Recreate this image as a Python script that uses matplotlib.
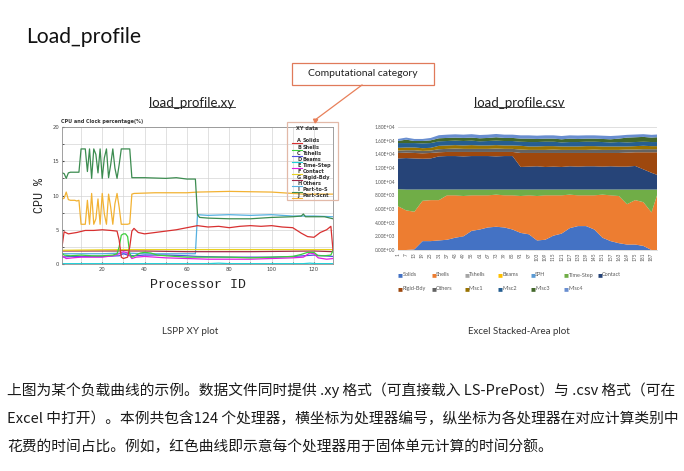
import matplotlib
matplotlib.use('Agg')
import matplotlib.pyplot as plt
from matplotlib.patches import Rectangle
from matplotlib.lines import Line2D
from matplotlib.ticker import FuncFormatter

# ---------------- LS-PrePost XY data (CPU %, per processor) ----------------
ids_fine = [1, 2, 3, 4, 5, 6, 7, 8, 9, 10, 11, 12, 13, 14, 15, 16, 17, 18, 19, 20,
            21, 22, 23, 24, 25, 26, 27, 28, 29, 30, 31, 32, 33, 34, 35,
            40, 50, 55, 60, 64, 65, 66, 70, 80, 90, 100, 110, 114, 115, 116, 125, 129]
part_s_cpu = [13.3, 13.2, 12.5, 13.3, 13.4, 13.4, 13.4, 13.4, 13.4, 16.8, 16.8, 16.8, 13.5,
              16.8, 12.5, 16.8, 16.0, 13.3, 16.8, 12.5, 15.5, 16.8, 12.6, 14.5, 16.8, 14.0,
              12.5, 14.5, 16.8, 16.8, 16.8, 16.8, 16.8, 12.6, 12.6,
              12.6, 12.5, 12.6, 12.4, 12.4, 7.2, 6.8, 6.7, 6.6, 6.6, 6.8, 6.9, 7.0, 7.3, 6.9, 6.9, 6.6]

ids_scnt = [1, 2, 3, 4, 5, 6, 7, 8, 9, 10, 11, 12, 13, 14, 15, 16, 17, 18, 19, 20,
            21, 22, 23, 24, 25, 26, 27, 28, 29, 30, 31, 32, 33, 34, 35,
            45, 60, 65, 80, 100, 110, 115, 129]
part_scnt_cpu = [9.5, 9.6, 10.5, 9.4, 9.3, 9.3, 9.3, 9.2, 9.3, 5.8, 5.8, 5.8, 9.3, 5.8, 10.3,
                 5.8, 6.6, 9.5, 5.8, 10.3, 7.3, 5.8, 10.2, 8.3, 5.8, 8.8, 10.3, 8.3, 5.8, 5.8,
                 5.8, 5.8, 5.9, 10.2, 10.3,
                 10.4, 10.4, 10.5, 10.6, 10.5, 10.3, 10.2, 10.2]

ids_solids = [1, 2, 4, 8, 12, 16, 20, 24, 27, 28, 29, 30, 31, 32, 33, 34, 35, 37, 40, 45,
              50, 55, 60, 65, 70, 75, 80, 85, 90, 95, 100, 105, 110, 114, 117, 120, 123,
              126, 128, 129]
solids_cpu = [2.5, 4.7, 4.4, 4.6, 4.9, 4.9, 5.0, 4.9, 4.8, 3.5, 1.0, 0.8, 0.9, 1.0, 2.5, 4.8,
              5.2, 4.6, 4.4, 4.6, 4.8, 5.0, 5.3, 5.6, 5.4, 5.5, 5.3, 5.5, 5.6, 5.5, 5.6, 5.4,
              5.3, 4.5, 4.0, 3.9, 4.6, 5.0, 5.5, 2.0]

ids_shells = [1, 2, 5, 10, 15, 20, 25, 27, 28, 29, 30, 31, 32, 33, 34, 36, 38, 40, 43, 46,
              50, 55, 60, 70, 80, 90, 100, 110, 114, 117, 120, 122, 125, 128, 129]
shells_cpu = [1.6, 1.3, 1.2, 1.3, 1.2, 1.2, 1.3, 1.5, 2.5, 4.2, 4.4, 4.4, 4.0, 1.5, 1.0, 1.3,
              1.6, 1.7, 1.6, 1.3, 1.2, 1.1, 1.0, 1.0, 1.0, 0.9, 1.0, 1.1, 1.4, 1.7, 1.7, 1.2,
              1.2, 1.3, 2.0]

ids_tshells = [1, 5, 10, 20, 28, 30, 32, 35, 40, 50, 60, 65, 80, 100, 110, 120, 129]
tshells_cpu = [1.0, 1.1, 1.1, 1.1, 1.2, 1.5, 1.3, 1.2, 1.3, 1.3, 1.2, 1.1, 1.0, 1.0, 1.1, 1.3, 1.1]

ids_beams = [1, 70, 75, 80, 115, 118, 121, 129]
beams_cpu = [0.05, 0.05, 0.12, 0.05, 0.05, 0.12, 0.05, 0.05]

ids_tstep = [1, 3, 6, 10, 15, 20, 25, 28, 30, 32, 34, 36, 40, 45, 50, 60, 70, 80, 90, 100,
             110, 115, 118, 120, 122, 126, 129]
tstep_cpu = [1.2, 0.8, 0.9, 1.0, 1.0, 1.0, 1.2, 1.5, 1.8, 1.6, 0.8, 1.0, 1.1, 1.0, 0.9, 0.8,
             0.7, 0.7, 0.7, 0.8, 0.9, 1.0, 1.6, 1.5, 0.9, 0.7, 0.8]

ids_contact = [1, 30, 60, 90, 129]
contact_cpu = [2.0, 2.1, 2.1, 2.1, 2.1]

ids_rigid = [1, 28, 30, 33, 40, 60, 90, 120, 129]
rigid_cpu = [1.9, 1.9, 2.0, 1.9, 1.9, 1.8, 1.8, 1.9, 1.8]

ids_others = [1, 10, 20, 30, 40, 50, 60, 64, 65, 70, 80, 90, 100, 110, 120, 129]
others_cpu = [1.5, 1.5, 1.5, 1.6, 1.5, 1.5, 1.5, 1.5, 7.2, 7.1, 7.2, 7.1, 7.2, 7.0, 7.0, 6.9]

xy_letters = ['A', 'B', 'C', 'D', 'E', 'F', 'G', 'H', 'I', 'J']
xy_names = ['Solids', 'Shells', 'Tshells', 'Beams', 'Time-Step', 'Contact',
            'Rigid-Bdy', 'Others', 'Part-to-S', 'Part-Scnt']
xy_colors = ['#d83030', '#3ccf3c', '#5050e0', '#20d0d8', '#e020e0', '#e8d020',
             '#a02848', '#55b0e0', '#3c8c50', '#f2b233']

# ---------------- Excel stacked-area data (time per processor) ----------------
csv_ids = [1, 7, 13, 19, 25, 31, 37, 43, 49, 55, 61, 67, 73, 79, 85, 91, 97, 103, 109, 115,
           121, 127, 133, 139, 145, 151, 157, 163, 169, 175, 181, 187, 191]
solids_t = [0, 0, 100, 1300, 1300, 1400, 1500, 1800, 2000, 2800, 3000, 3300, 3400, 3300, 3000,
            2500, 2300, 1400, 1500, 2100, 2400, 3200, 3500, 3500, 3000, 1800, 1300, 1000, 800,
            800, 600, 0, 0]
shells_t = [6400, 5800, 5500, 5900, 6000, 5900, 6500, 6200, 5900, 5200, 5000, 4700, 4700, 4700,
            5000, 5400, 5700, 6500, 6500, 5900, 5600, 4900, 4500, 4500, 5000, 6300, 6700, 6900,
            5900, 6500, 6400, 5500, 8000]
timestep_t = [2500, 3050, 3250, 1650, 1550, 1550, 850, 850, 950, 850, 850, 850, 750, 850, 850,
              950, 850, 950, 850, 850, 850, 750, 850, 850, 850, 750, 850, 950, 2150, 1550, 1850,
              3350, 850]
contact_t = [4500, 4600, 4550, 4500, 4550, 4850, 4900, 4900, 4850, 4900, 4900, 4900, 4850, 4900,
             4900, 3300, 3350, 3400, 3300, 3350, 3300, 3400, 3350, 3400, 3400, 3350, 3400, 3350,
             3350, 3450, 2950, 2450, 2150]
rigid_t = [800, 800, 800, 800, 800, 600, 600, 600, 650, 600, 600, 600, 650, 600, 600, 2050, 2000,
           1950, 2050, 2000, 2050, 1950, 2000, 1950, 1950, 2000, 1950, 2000, 2050, 2000, 2500,
           3000, 3300]
others_t = [350, 350, 400, 350, 350, 450, 450, 500, 450, 450, 450, 450, 500, 450, 450, 500, 450,
            450, 450, 500, 450, 450, 450, 450, 500, 450, 450, 450, 450, 400, 450, 450, 450]
misc1_t = [400, 400, 400, 400, 400, 500, 500, 500, 500, 550, 500, 500, 500, 500, 500, 550, 500,
           500, 550, 500, 500, 500, 500, 550, 500, 500, 500, 500, 450, 500, 500, 450, 450]
misc2_t = [700, 650, 650, 700, 700, 650, 650, 650, 650, 650, 600, 650, 650, 650, 650, 600, 650,
           650, 650, 650, 600, 650, 650, 650, 650, 650, 600, 650, 600, 600, 600, 600, 600]
misc3_t = [300, 500, 300, 350, 400, 450, 450, 450, 450, 450, 450, 450, 500, 450, 450, 450, 500,
           450, 450, 450, 450, 500, 450, 450, 450, 450, 450, 500, 700, 700, 700, 650, 700]
misc4_t = [300, 300, 300, 300, 350, 450, 480, 480, 480, 500, 480, 480, 480, 480, 480, 480, 480,
           480, 480, 480, 480, 480, 500, 480, 480, 480, 480, 450, 400, 400, 400, 400, 400]

csv_names = ['Solids', 'Shells', 'Tshells', 'Beams', 'SPH', 'Time-Step', 'Contact',
             'Rigid-Bdy', 'Others', 'Misc1', 'Misc2', 'Misc3', 'Misc4']
csv_colors = ['#4472C4', '#ED7D31', '#A5A5A5', '#FFC000', '#5B9BD5', '#70AD47', '#264478',
              '#9E480E', '#636363', '#997300', '#255E91', '#43682B', '#698ED0']

W, H = 684, 471


def fx(px):
    return px / W


def fy(py):
    return 1 - py / H


fig = plt.figure(figsize=(W / 100, H / 100), dpi=100)
fig.patch.set_facecolor('white')
sans = 'Lato'
cjk = ['Noto Sans CJK SC', 'DejaVu Sans']

# ---------------- headings ----------------
fig.text(fx(26), fy(37), 'Load_profile', fontsize=15.2, family=sans, va='center', color='#111111')

fig.add_artist(Rectangle((fx(292), fy(85)), fx(434) - fx(292), fy(63) - fy(85),
                         transform=fig.transFigure, fill=False, edgecolor='#e07a5a', lw=0.9))
fig.text(fx(363), fy(74), 'Computational category', fontsize=7.5, family=sans,
         ha='center', va='center', color='#222222')
fig.add_artist(Line2D([fx(362), fx(315)], [fy(85), fy(120)], transform=fig.transFigure,
                      color='#e8805a', lw=0.9))
fig.add_artist(Line2D([fx(315)], [fy(120)], transform=fig.transFigure, marker=(3, 0, 53),
                      markersize=3.5, color='#e8805a'))

sub_xy = fig.text(fx(192), fy(103), 'load_profile.xy', fontsize=9.5, family=sans,
                  ha='center', va='center', color='#222222')
sub_csv = fig.text(fx(519), fy(103), 'load_profile.csv', fontsize=9.5, family=sans,
                   ha='center', va='center', color='#222222')

# ---------------- left: LS-PrePost XY plot ----------------
ax1 = fig.add_axes([fx(62), fy(264), fx(333) - fx(62), fy(127) - fy(264)])
xy_series = [(ids_solids, solids_cpu), (ids_shells, shells_cpu), (ids_tshells, tshells_cpu),
             (ids_beams, beams_cpu), (ids_tstep, tstep_cpu), (ids_contact, contact_cpu),
             (ids_rigid, rigid_cpu), (ids_others, others_cpu), (ids_fine, part_s_cpu),
             (ids_scnt, part_scnt_cpu)]
draw_order = [3, 7, 2, 6, 5, 4, 1, 0, 9, 8]
for i in draw_order:
    xs, ys = xy_series[i]
    ax1.plot(xs, ys, color=xy_colors[i], lw=0.9)
ax1.set_xlim(1, 129)
ax1.set_ylim(0, 20)
ax1.set_xticks([20, 40, 60, 80, 100, 120])
ax1.set_xticks(range(10, 130, 10), minor=True)
ax1.set_yticks([0, 5, 10, 15, 20])
ax1.set_yticks([2.5, 7.5, 12.5, 17.5], minor=True)
ax1.grid(True, which='both', color='#d4d4d4', lw=0.5)
ax1.tick_params(which='both', length=1.5, direction='in', labelsize=3.8, colors='#444444', pad=2)
for s in ax1.spines.values():
    s.set_color('#909090')
    s.set_linewidth(0.6)
ax1.set_xlabel('Processor ID', family='Liberation Mono', fontsize=9.5, labelpad=5, color='#222222')
ax1.set_ylabel('CPU %', family='Liberation Mono', fontsize=8.5, labelpad=5, color='#222222')
fig.text(fx(61), fy(122), 'CPU and Clock percentage(%)', fontsize=3.5, weight='bold',
         family='DejaVu Sans', va='center', color='#333333')

# legend of the XY plot (transparent, LS-PrePost style)
fig.text(fx(296), fy(128), 'XY data', fontsize=3.6, weight='bold', family='DejaVu Sans',
         va='center', color='#333333')
for i in range(len(xy_names)):
    yy = 141 + i * 6.1
    fig.text(fx(297), fy(yy), xy_letters[i], fontsize=3.6, weight='bold',
             family='DejaVu Sans', va='center', color='#333333')
    fig.text(fx(302.5), fy(yy), xy_names[i], fontsize=3.6, weight='bold',
             family='DejaVu Sans', va='center', color='#333333')
    fig.add_artist(Line2D([fx(292), fx(302)], [fy(yy + 2.4), fy(yy + 2.4)],
                          transform=fig.transFigure, color=xy_colors[i], lw=0.8))
fig.add_artist(Rectangle((fx(287), fy(200)), fx(338) - fx(287), fy(122) - fy(200),
                         transform=fig.transFigure, fill=False, edgecolor='#e2b9a8', lw=0.9))

# ---------------- right: Excel stacked area ----------------
ax2 = fig.add_axes([fx(398), fy(250), fx(657) - fx(398), fy(127) - fy(250)])
zeros = [0] * len(csv_ids)
stack = [solids_t, shells_t, zeros, zeros, zeros, timestep_t, contact_t, rigid_t,
         others_t, misc1_t, misc2_t, misc3_t, misc4_t]
ax2.stackplot(csv_ids, *stack, colors=csv_colors, lw=0)
ax2.set_xlim(1, 191)
ax2.set_ylim(0, 18000)
ax2.set_yticks(range(0, 18001, 2000))
ax2.yaxis.set_major_formatter(FuncFormatter(lambda v, p: f'{v:.2E}'))
ax2.set_xticks(csv_ids[:-1])
ax2.set_xticklabels([str(v) for v in csv_ids[:-1]], rotation=90)
ax2.yaxis.grid(True, color='#d9d9d9', lw=0.6)
ax2.set_axisbelow(True)
ax2.tick_params(length=0, labelsize=3.4, colors='#595959', pad=2)
for lab in ax2.get_xticklabels() + ax2.get_yticklabels():
    lab.set_family(sans)
for k in ['left', 'right', 'top']:
    ax2.spines[k].set_visible(False)
ax2.spines['bottom'].set_color('#d9d9d9')
ax2.spines['bottom'].set_linewidth(0.6)

# Excel-like legend: 2 rows x 7 columns
for i, (name, col) in enumerate(zip(csv_names, csv_colors)):
    r, c = divmod(i, 7)
    x0 = 398 + c * 33.2
    y0 = 275 + r * 13.5
    fig.text(fx(x0), fy(y0), '\u25a0', fontsize=3.8, color=col, va='center', family='DejaVu Sans')
    fig.text(fx(x0 + 4.5), fy(y0), name, fontsize=4.0, color='#595959', va='center', family=sans)

# ---------------- captions and description ----------------
fig.text(fx(190), fy(331), 'LSPP XY plot', fontsize=7, family=sans, ha='center', va='center',
         color='#333333')
fig.text(fx(519), fy(331), 'Excel Stacked-Area plot', fontsize=7, family=sans, ha='center',
         va='center', color='#333333')

lines = ['上图为某个负载曲线的示例。数据文件同时提供 .xy 格式（可直接载入 LS-PrePost）与 .csv 格式（可在',
         'Excel 中打开）。本例共包含124 个处理器，横坐标为处理器编号，纵坐标为各处理器在对应计算类别中',
         '花费的时间占比。例如，红色曲线即示意每个处理器用于固体单元计算的时间分额。']
for k, ln in enumerate(lines):
    fig.text(fx(7), fy(390 + k * 28.5), ln, fontsize=10.6, family=cjk, va='center', color='#1a1a1a')

# underline the two sub-titles
fig.canvas.draw()
inv = fig.transFigure.inverted()
for t in [sub_xy, sub_csv]:
    bb = t.get_window_extent()
    (x0, y0), (x1, y1) = inv.transform([(bb.x0, bb.y0), (bb.x1, bb.y1)])
    fig.add_artist(Line2D([x0, x1], [y0 + 0.004, y0 + 0.004], transform=fig.transFigure,
                          color='#222222', lw=0.6))

fig.savefig('out.png', dpi=100)
